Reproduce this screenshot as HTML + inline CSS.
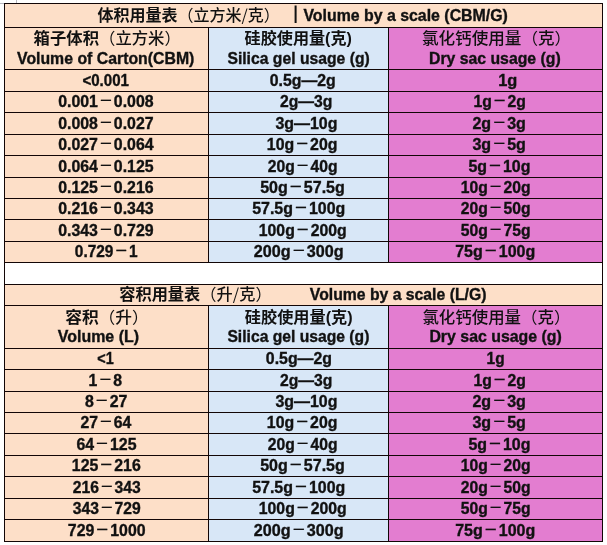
<!DOCTYPE html>
<html><head><meta charset="utf-8"><style>
html,body{margin:0;padding:0;background:#fff;width:607px;height:545px;overflow:hidden}
svg{display:block;will-change:transform}
text{font-family:'Liberation Sans','Noto Sans CJK SC',sans-serif;font-weight:bold;fill:#111;stroke:#111;stroke-width:0.35px}
text.c{font-family:'Noto Sans CJK SC',sans-serif;stroke-width:0}
.lp{font-family:'Liberation Sans',sans-serif}
.d{font-family:'Noto Sans CJK SC',sans-serif;font-weight:500;stroke-width:0.25px}
.n{font-weight:normal}
.m{font-weight:500}
</style></head><body>
<svg width="607" height="545" viewBox="0 0 607 545">
<rect x="4" y="3" width="599" height="24" fill="#FDDFC8"/><rect x="4" y="27" width="204" height="235" fill="#FDDFC8"/><rect x="208" y="27" width="180" height="235" fill="#D8E7F7"/><rect x="388" y="27" width="215" height="235" fill="#E37DD0"/><rect x="4" y="284" width="599" height="21" fill="#FDDFC8"/><rect x="4" y="305" width="204" height="236" fill="#FDDFC8"/><rect x="208" y="305" width="180" height="236" fill="#D8E7F7"/><rect x="388" y="305" width="215" height="236" fill="#E37DD0"/><rect x="4" y="3" width="599" height="1" fill="#120606"/><rect x="4" y="27" width="599" height="1" fill="#120606"/><rect x="4" y="69" width="599" height="1" fill="#120606"/><rect x="4" y="91" width="599" height="1" fill="#120606"/><rect x="4" y="112" width="599" height="1" fill="#120606"/><rect x="4" y="134" width="599" height="1" fill="#120606"/><rect x="4" y="155" width="599" height="1" fill="#120606"/><rect x="4" y="177" width="599" height="1" fill="#120606"/><rect x="4" y="198" width="599" height="1" fill="#120606"/><rect x="4" y="219" width="599" height="1" fill="#120606"/><rect x="4" y="241" width="599" height="1" fill="#120606"/><rect x="4" y="262" width="599" height="1" fill="#120606"/><rect x="208" y="27" width="1" height="236" fill="#120606"/><rect x="388" y="27" width="1" height="236" fill="#120606"/><rect x="4" y="284" width="599" height="1" fill="#120606"/><rect x="4" y="305" width="599" height="1" fill="#120606"/><rect x="4" y="348" width="599" height="1" fill="#120606"/><rect x="4" y="369" width="599" height="1" fill="#120606"/><rect x="4" y="391" width="599" height="1" fill="#120606"/><rect x="4" y="412" width="599" height="1" fill="#120606"/><rect x="4" y="433" width="599" height="1" fill="#120606"/><rect x="4" y="455" width="599" height="1" fill="#120606"/><rect x="4" y="476" width="599" height="1" fill="#120606"/><rect x="4" y="498" width="599" height="1" fill="#120606"/><rect x="4" y="519" width="599" height="1" fill="#120606"/><rect x="4" y="541" width="599" height="1" fill="#120606"/><rect x="208" y="305" width="1" height="237" fill="#120606"/><rect x="388" y="305" width="1" height="237" fill="#120606"/><rect x="4" y="3" width="1" height="539" fill="#120606"/><rect x="602" y="3" width="1" height="539" fill="#120606"/><rect x="0" y="3" width="4" height="1" fill="#B8B8C0"/><rect x="16" y="0" width="1" height="3" fill="#B8B8C0"/><rect x="294.6" y="5.5" width="2" height="17.5" fill="#111"/>
<text transform="translate(82.42,85.80) scale(0.9430,1)" class="l" font-size="16">&lt;0.001</text><text transform="translate(269.80,85.80) scale(0.9908,1)" class="l" font-size="16">0.5g—2g</text><text transform="translate(498.16,85.80) scale(1.0254,1)" class="l" font-size="16">1g</text><text transform="translate(58.20,106.80) scale(0.9938,1)" class="l" font-size="16">0.001<tspan class="d" font-size="14" dx="1" dy="-2.2">－</tspan><tspan dx="1" dy="2.2">0.008</tspan></text><text transform="translate(280.00,106.80) scale(0.9847,1)" class="l" font-size="16">2g—3g</text><text transform="translate(473.40,106.80) scale(0.9847,1)" class="l" font-size="16">1g<tspan class="d" font-size="14" dx="1" dy="-2.2">－</tspan><tspan dx="1" dy="2.2">2g</tspan></text><text transform="translate(58.20,128.80) scale(0.9937,1)" class="l" font-size="16">0.008<tspan class="d" font-size="14" dx="1" dy="-2.2">－</tspan><tspan dx="1" dy="2.2">0.027</tspan></text><text transform="translate(275.40,128.80) scale(0.9985,1)" class="l" font-size="16">3g—10g</text><text transform="translate(472.39,128.80) scale(1.0039,1)" class="l" font-size="16">2g<tspan class="d" font-size="14" dx="1" dy="-2.2">－</tspan><tspan dx="1" dy="2.2">3g</tspan></text><text transform="translate(58.20,149.80) scale(0.9938,1)" class="l" font-size="16">0.027<tspan class="d" font-size="14" dx="1" dy="-2.2">－</tspan><tspan dx="1" dy="2.2">0.064</tspan></text><text transform="translate(266.80,149.80) scale(0.9943,1)" class="l" font-size="16">10g<tspan class="d" font-size="14" dx="1" dy="-2.2">－</tspan><tspan dx="1" dy="2.2">20g</tspan></text><text transform="translate(472.39,149.80) scale(1.0039,1)" class="l" font-size="16">3g<tspan class="d" font-size="14" dx="1" dy="-2.2">－</tspan><tspan dx="1" dy="2.2">5g</tspan></text><text transform="translate(58.20,171.80) scale(0.9938,1)" class="l" font-size="16">0.064<tspan class="d" font-size="14" dx="1" dy="-2.2">－</tspan><tspan dx="1" dy="2.2">0.125</tspan></text><text transform="translate(267.80,171.80) scale(0.9801,1)" class="l" font-size="16">20g<tspan class="d" font-size="14" dx="1" dy="-2.2">－</tspan><tspan dx="1" dy="2.2">40g</tspan></text><text transform="translate(468.40,171.80) scale(0.9985,1)" class="l" font-size="16">5g<tspan class="d" font-size="14" dx="1" dy="-2.2">－</tspan><tspan dx="1" dy="2.2">10g</tspan></text><text transform="translate(58.20,192.80) scale(0.9937,1)" class="l" font-size="16">0.125<tspan class="d" font-size="14" dx="1" dy="-2.2">－</tspan><tspan dx="1" dy="2.2">0.216</tspan></text><text transform="translate(260.20,192.80) scale(1.0024,1)" class="l" font-size="16">50g<tspan class="d" font-size="14" dx="1" dy="-2.2">－</tspan><tspan dx="1" dy="2.2">57.5g</tspan></text><text transform="translate(460.80,192.80) scale(0.9800,1)" class="l" font-size="16">10g<tspan class="d" font-size="14" dx="1" dy="-2.2">－</tspan><tspan dx="1" dy="2.2">20g</tspan></text><text transform="translate(58.20,213.80) scale(0.9937,1)" class="l" font-size="16">0.216<tspan class="d" font-size="14" dx="1" dy="-2.2">－</tspan><tspan dx="1" dy="2.2">0.343</tspan></text><text transform="translate(252.20,213.80) scale(0.9967,1)" class="l" font-size="16">57.5g<tspan class="d" font-size="14" dx="1" dy="-2.2">－</tspan><tspan dx="1" dy="2.2">100g</tspan></text><text transform="translate(460.80,213.80) scale(0.9801,1)" class="l" font-size="16">20g<tspan class="d" font-size="14" dx="1" dy="-2.2">－</tspan><tspan dx="1" dy="2.2">50g</tspan></text><text transform="translate(58.20,235.80) scale(0.9937,1)" class="l" font-size="16">0.343<tspan class="d" font-size="14" dx="1" dy="-2.2">－</tspan><tspan dx="1" dy="2.2">0.729</tspan></text><text transform="translate(258.80,235.80) scale(0.9886,1)" class="l" font-size="16">100g<tspan class="d" font-size="14" dx="1" dy="-2.2">－</tspan><tspan dx="1" dy="2.2">200g</tspan></text><text transform="translate(460.80,235.80) scale(0.9801,1)" class="l" font-size="16">50g<tspan class="d" font-size="14" dx="1" dy="-2.2">－</tspan><tspan dx="1" dy="2.2">75g</tspan></text><text transform="translate(74.81,256.80) scale(0.9657,1)" class="l" font-size="16">0.729<tspan class="d" font-size="14" dx="1" dy="-2.2">－</tspan><tspan dx="1" dy="2.2">1</tspan></text><text transform="translate(253.79,256.80) scale(1.0115,1)" class="l" font-size="16">200g<tspan class="d" font-size="14" dx="1" dy="-2.2">－</tspan><tspan dx="1" dy="2.2">300g</tspan></text><text transform="translate(455.20,256.80) scale(1.0000,1)" class="l" font-size="16">75g<tspan class="d" font-size="14" dx="1" dy="-2.2">－</tspan><tspan dx="1" dy="2.2">100g</tspan></text><text transform="translate(97.22,363.80) scale(0.9000,1)" class="l" font-size="16">&lt;1</text><text transform="translate(265.80,363.80) scale(0.9940,1)" class="l" font-size="16">0.5g—2g</text><text transform="translate(486.62,363.80) scale(0.9651,1)" class="l" font-size="16">1g</text><text transform="translate(88.62,385.80) scale(0.9880,1)" class="l" font-size="16">1<tspan class="d" font-size="14" dx="1" dy="-2.2">－</tspan><tspan dx="1" dy="2.2">8</tspan></text><text transform="translate(280.00,385.80) scale(0.9847,1)" class="l" font-size="16">2g—3g</text><text transform="translate(473.40,385.80) scale(0.9847,1)" class="l" font-size="16">1g<tspan class="d" font-size="14" dx="1" dy="-2.2">－</tspan><tspan dx="1" dy="2.2">2g</tspan></text><text transform="translate(85.00,406.80) scale(0.9954,1)" class="l" font-size="16">8<tspan class="d" font-size="14" dx="1" dy="-2.2">－</tspan><tspan dx="1" dy="2.2">27</tspan></text><text transform="translate(275.40,406.80) scale(0.9985,1)" class="l" font-size="16">3g—10g</text><text transform="translate(472.39,406.80) scale(1.0039,1)" class="l" font-size="16">2g<tspan class="d" font-size="14" dx="1" dy="-2.2">－</tspan><tspan dx="1" dy="2.2">3g</tspan></text><text transform="translate(80.41,427.80) scale(0.9883,1)" class="l" font-size="16">27<tspan class="d" font-size="14" dx="1" dy="-2.2">－</tspan><tspan dx="1" dy="2.2">64</tspan></text><text transform="translate(266.80,427.80) scale(0.9943,1)" class="l" font-size="16">10g<tspan class="d" font-size="14" dx="1" dy="-2.2">－</tspan><tspan dx="1" dy="2.2">20g</tspan></text><text transform="translate(472.39,427.80) scale(1.0039,1)" class="l" font-size="16">3g<tspan class="d" font-size="14" dx="1" dy="-2.2">－</tspan><tspan dx="1" dy="2.2">5g</tspan></text><text transform="translate(76.39,449.80) scale(0.9953,1)" class="l" font-size="16">64<tspan class="d" font-size="14" dx="1" dy="-2.2">－</tspan><tspan dx="1" dy="2.2">125</tspan></text><text transform="translate(267.80,449.80) scale(0.9801,1)" class="l" font-size="16">20g<tspan class="d" font-size="14" dx="1" dy="-2.2">－</tspan><tspan dx="1" dy="2.2">40g</tspan></text><text transform="translate(468.40,449.80) scale(0.9985,1)" class="l" font-size="16">5g<tspan class="d" font-size="14" dx="1" dy="-2.2">－</tspan><tspan dx="1" dy="2.2">10g</tspan></text><text transform="translate(71.81,470.80) scale(0.9944,1)" class="l" font-size="16">125<tspan class="d" font-size="14" dx="1" dy="-2.2">－</tspan><tspan dx="1" dy="2.2">216</tspan></text><text transform="translate(260.20,470.80) scale(1.0024,1)" class="l" font-size="16">50g<tspan class="d" font-size="14" dx="1" dy="-2.2">－</tspan><tspan dx="1" dy="2.2">57.5g</tspan></text><text transform="translate(460.80,470.80) scale(0.9800,1)" class="l" font-size="16">10g<tspan class="d" font-size="14" dx="1" dy="-2.2">－</tspan><tspan dx="1" dy="2.2">20g</tspan></text><text transform="translate(72.80,492.80) scale(0.9800,1)" class="l" font-size="16">216<tspan class="d" font-size="14" dx="1" dy="-2.2">－</tspan><tspan dx="1" dy="2.2">343</tspan></text><text transform="translate(252.20,492.80) scale(0.9967,1)" class="l" font-size="16">57.5g<tspan class="d" font-size="14" dx="1" dy="-2.2">－</tspan><tspan dx="1" dy="2.2">100g</tspan></text><text transform="translate(460.80,492.80) scale(0.9801,1)" class="l" font-size="16">20g<tspan class="d" font-size="14" dx="1" dy="-2.2">－</tspan><tspan dx="1" dy="2.2">50g</tspan></text><text transform="translate(72.80,513.80) scale(0.9800,1)" class="l" font-size="16">343<tspan class="d" font-size="14" dx="1" dy="-2.2">－</tspan><tspan dx="1" dy="2.2">729</tspan></text><text transform="translate(258.80,513.80) scale(0.9886,1)" class="l" font-size="16">100g<tspan class="d" font-size="14" dx="1" dy="-2.2">－</tspan><tspan dx="1" dy="2.2">200g</tspan></text><text transform="translate(460.80,513.80) scale(0.9801,1)" class="l" font-size="16">50g<tspan class="d" font-size="14" dx="1" dy="-2.2">－</tspan><tspan dx="1" dy="2.2">75g</tspan></text><text transform="translate(67.80,535.80) scale(0.9949,1)" class="l" font-size="16">729<tspan class="d" font-size="14" dx="1" dy="-2.2">－</tspan><tspan dx="1" dy="2.2">1000</tspan></text><text transform="translate(253.79,535.80) scale(1.0115,1)" class="l" font-size="16">200g<tspan class="d" font-size="14" dx="1" dy="-2.2">－</tspan><tspan dx="1" dy="2.2">300g</tspan></text><text transform="translate(455.20,535.80) scale(1.0000,1)" class="l" font-size="16">75g<tspan class="d" font-size="14" dx="1" dy="-2.2">－</tspan><tspan dx="1" dy="2.2">100g</tspan></text><text transform="translate(33.58,43.60) scale(1.0228,1)" class="c" font-size="16">箱子体积<tspan class="n">（</tspan><tspan class="m">立方米</tspan><tspan class="n">）</tspan></text><text transform="translate(17.00,64.30) scale(0.9905,1)" class="l" font-size="16">Volume of Carton(CBM)</text><text transform="translate(244.60,43.60) scale(1.0067,1)" class="c" font-size="16">硅胶使用量<tspan class="lp">(</tspan>克<tspan class="lp">)</tspan></text><text transform="translate(227.40,64.30) scale(0.9827,1)" class="l" font-size="16">Silica gel usage (g)</text><text transform="translate(421.96,43.60) scale(1.0371,1)" class="c" font-size="16"><tspan class="m">氯化钙使用量</tspan><tspan class="n">（</tspan><tspan class="m">克</tspan><tspan class="n">）</tspan></text><text transform="translate(429.01,64.30) scale(0.9879,1)" class="l" font-size="16">Dry sac usage (g)</text><text transform="translate(65.16,322.50) scale(1.0457,1)" class="c" font-size="16">容积<tspan class="n">（</tspan><tspan class="m">升</tspan><tspan class="n">）</tspan></text><text transform="translate(57.80,341.70) scale(0.9976,1)" class="l" font-size="16">Volume (L)</text><text transform="translate(244.79,322.50) scale(1.0124,1)" class="c" font-size="16">硅胶使用量<tspan class="lp">(</tspan>克<tspan class="lp">)</tspan></text><text transform="translate(227.41,341.70) scale(0.9806,1)" class="l" font-size="16">Silica gel usage (g)</text><text transform="translate(422.39,322.50) scale(1.0279,1)" class="c" font-size="16"><tspan class="m">氯化钙使用量</tspan><tspan class="n">（</tspan><tspan class="m">克</tspan><tspan class="n">）</tspan></text><text transform="translate(429.40,341.70) scale(0.9933,1)" class="l" font-size="16">Dry sac usage (g)</text><text transform="translate(97.40,20.70) scale(1.0012,1)" class="c" font-size="16">体积用量表<tspan class="n">（</tspan><tspan class="m">立方米</tspan><tspan class="n">/</tspan><tspan class="m">克</tspan><tspan class="n">）</tspan></text><text transform="translate(303.40,21.40) scale(0.9932,1)" class="l" font-size="16">Volume by a scale (CBM/G)</text><text transform="translate(119.19,299.50) scale(1.0144,1)" class="c" font-size="16">容积用量表<tspan class="n">（</tspan><tspan class="m">升</tspan><tspan class="n">/</tspan><tspan class="m">克</tspan><tspan class="n">）</tspan></text><text transform="translate(309.79,299.70) scale(0.9855,1)" class="l" font-size="16">Volume by a scale (L/G)</text>
</svg>
</body></html>
